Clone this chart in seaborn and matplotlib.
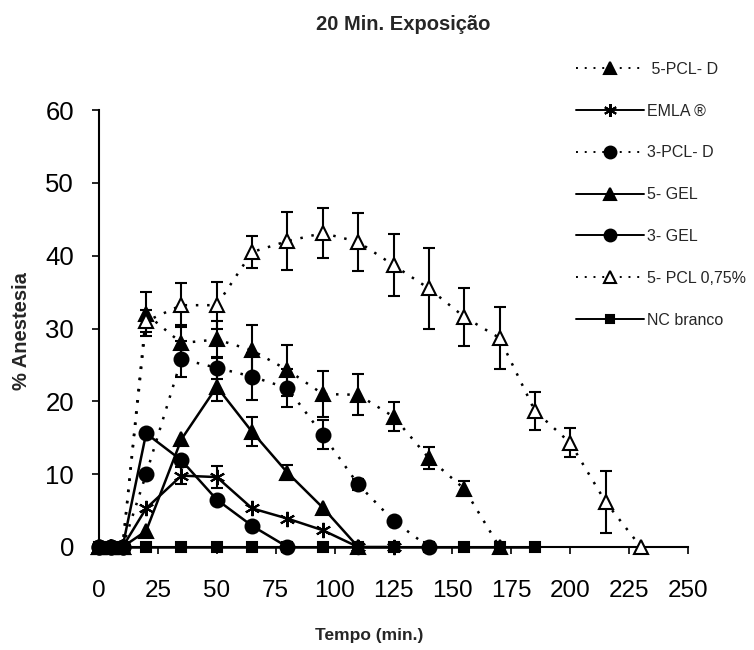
import matplotlib
matplotlib.use("Agg")
import matplotlib.pyplot as plt
from matplotlib.lines import Line2D
import seaborn as sns
import numpy as np
import pandas as pd

# ---- data ----
t_pcl5d = [0, 5, 10, 20, 35, 50, 65, 80, 95, 110, 125, 140, 155, 170]
y_pcl5d = [0, 0, 0, 32, 28, 28.5, 27, 24.3, 21, 20.9, 17.9, 12.2, 8, 0]
e_pcl5d = [0, 0, 0, 3, 2.5, 2.5, 3.5, 3.5, 3.2, 2.8, 2, 1.5, 1, 0]

t_emla = [0, 5, 10, 20, 35, 50, 65, 80, 95, 110, 125]
y_emla = [0, 0, 0, 5.3, 9.8, 9.6, 5.3, 3.9, 2.3, 0, 0]
e_emla = [0, 0, 0, 0, 1.2, 1.5, 0, 0, 0, 0, 0]

t_pcl3d = [0, 5, 10, 20, 35, 50, 65, 80, 95, 110, 125, 140]
y_pcl3d = [0, 0, 0, 10, 25.8, 24.6, 23.4, 21.8, 15.4, 8.6, 3.6, 0]
e_pcl3d = [0, 0, 0, 0, 2.5, 1.5, 3.2, 2.6, 2, 0.8, 0, 0]

t_gel5 = [0, 5, 10, 20, 35, 50, 65, 80, 95, 110]
y_gel5 = [0, 0, 0, 2.2, 14.8, 22, 15.8, 10.2, 5.4, 0]
e_gel5 = [0, 0, 0, 0, 0, 2, 2, 1, 0, 0]

t_gel3 = [0, 5, 10, 20, 35, 50, 65, 80]
y_gel3 = [0, 0, 0, 15.6, 11.9, 6.5, 2.9, 0]

t_pcl075 = [0, 5, 10, 20, 35, 50, 65, 80, 95, 110, 125, 140, 155, 170, 185, 200, 215, 230]
y_pcl075 = [0, 0, 0, 31, 33.2, 33.2, 40.5, 42, 43.1, 41.9, 38.7, 35.5, 31.6, 28.7, 18.7, 14.3, 6.2, 0]
e_pcl075 = [0, 0, 0, 1.5, 3, 3.2, 2.2, 4, 3.4, 4, 4.3, 5.6, 4, 4.2, 2.6, 2, 4.3, 0]

t_nc = [0, 5, 10, 20, 35, 50, 65, 80, 95, 110, 125, 140, 155, 170, 185]
y_nc = [0] * len(t_nc)

labels = [" 5-PCL- D", "EMLA ®", "3-PCL- D", "5- GEL", "3- GEL", "5- PCL 0,75%", "NC branco"]
x_ticks = [0, 25, 50, 75, 100, 125, 150, 175, 200, 225, 250]
y_ticks = [0, 10, 20, 30, 40, 50, 60]

# ---- style ----
sns.set_theme(style="white")
plt.rcParams["font.family"] = ["Liberation Sans", "DejaVu Sans"]

fig = plt.figure(figsize=(7.54, 6.5), dpi=100)
ax = fig.add_axes([99 / 754, 103 / 650, 589 / 754, 437 / 650])

dot = (0, (1, 3.5))
series = [
    (t_pcl5d, y_pcl5d, e_pcl5d, dict(marker="^", ls=dot, mfc="black", ms=10)),
    (t_emla, y_emla, e_emla, dict(marker=(6, 2, 0), ls="-", mfc="black", ms=11)),
    (t_pcl3d, y_pcl3d, e_pcl3d, dict(marker="o", ls=dot, mfc="black", ms=10)),
    (t_gel5, y_gel5, e_gel5, dict(marker="^", ls="-", mfc="black", ms=10)),
    (t_gel3, y_gel3, None, dict(marker="o", ls="-", mfc="black", ms=10)),
    (t_pcl075, y_pcl075, e_pcl075, dict(marker="^", ls=dot, mfc="white", ms=10)),
    (t_nc, y_nc, None, dict(marker="s", ls="-", mfc="black", ms=7)),
]

handles = []
for i, ((tx, ty, te, st), lab) in enumerate(zip(series, labels)):
    lw = 1.8
    sns.lineplot(x=tx, y=ty, ax=ax, color="black", linewidth=lw, linestyle=st["ls"],
                 marker=st["marker"], markersize=st["ms"], markerfacecolor=st["mfc"],
                 markeredgecolor="black", markeredgewidth=1.5, clip_on=False,
                 zorder=3 + i * 0.1, estimator=None, sort=False, legend=False)
    if te is not None:
        te_arr = np.array(te, dtype=float)
        mask = te_arr > 0
        ax.errorbar(np.array(tx)[mask], np.array(ty)[mask], yerr=te_arr[mask], fmt="none",
                    ecolor="black", elinewidth=1.5, capsize=4.5, capthick=1.5, zorder=2)
    handles.append(Line2D([], [], color="black", linewidth=1.4, linestyle=st["ls"],
                          marker=st["marker"], markersize=st["ms"] * 0.85,
                          markerfacecolor=st["mfc"], markeredgecolor="black",
                          markeredgewidth=1.5))

ax.set_xlim(0, 250)
ax.set_ylim(0, 60)
ax.set_xticks(x_ticks)
ax.set_xticklabels([str(v) for v in x_ticks])
ax.set_yticks(y_ticks)
ax.set_yticklabels([str(v) for v in y_ticks])
for s in ["top", "right"]:
    ax.spines[s].set_visible(False)
for s in ["left", "bottom"]:
    ax.spines[s].set_color("black")
    ax.spines[s].set_linewidth(1.5)
ax.tick_params(axis="x", direction="out", length=5, width=1.2, pad=19, labelsize=17.5,
               colors="black", bottom=True)
ax.tick_params(axis="y", direction="out", length=5, width=1.2, pad=13, labelsize=18.5,
               colors="black", left=True)
ax.set_xlabel("")
ax.set_ylabel("")
ax.grid(False)

fig.text(0.535, 0.962, "20 Min. Exposição", ha="center", va="center",
         fontsize=14.5, fontweight="bold")
fig.text(0.028, 0.49, "% Anestesia", ha="center", va="center", rotation=90,
         fontsize=14.5, fontweight="bold")
fig.text(0.49, 0.022, "Tempo (min.)", ha="center", va="center",
         fontsize=12.5, fontweight="bold")

fig.legend(handles, labels, loc="upper left", bbox_to_anchor=(0.755, 0.915),
           frameon=False, fontsize=11.5, handlelength=4.3, labelspacing=1.68,
           handletextpad=0.15, borderaxespad=0)

fig.savefig("out.png", dpi=100)
